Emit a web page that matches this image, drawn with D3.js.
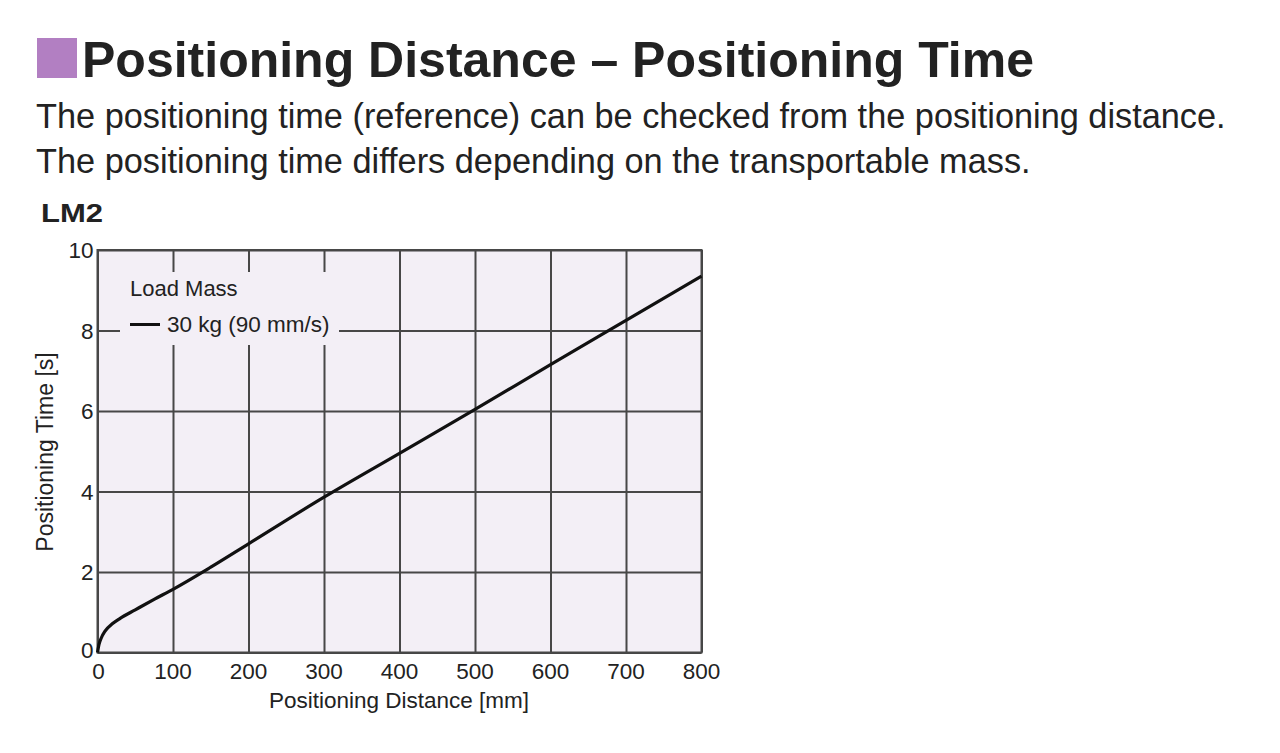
<!DOCTYPE html>
<html lang="en">
<head>
<meta charset="UTF-8">
<title>Positioning Distance - Positioning Time</title>
<script src="https://d3js.org/d3.v7.min.js"></script>
<style>
  body { margin: 0; background: #fff; }
  svg text { font-family: "Liberation Sans", Arial, Helvetica, sans-serif; fill: #222; }
</style>
</head>
<body>
<svg id="chart" width="1280" height="753"></svg>
<script>
// curve (distance in mm, time in s)
const distance = [0, 2, 5, 10, 20, 30, 50, 75, 100, 150, 200, 300, 400, 500, 600, 700, 800];
const time = [0, 0.2, 0.36, 0.53, 0.72, 0.85, 1.06, 1.32, 1.57, 2.12, 2.7, 3.86, 4.95, 6.04, 7.15, 8.25, 9.35];
const xTicks = [0, 100, 200, 300, 400, 500, 600, 700, 800];
const yTicks = [0, 2, 4, 6, 8, 10];
const legendTitle = "Load Mass";
const seriesName = "30 kg (90 mm/s)";

const svg = d3.select("#chart");

// header
svg.append("rect").attr("x", 37).attr("y", 38).attr("width", 40).attr("height", 40).attr("fill", "#b27fc2");
svg.append("text").attr("x", 82).attr("y", 77).style("font-size", "50px").style("font-weight", "bold")
    .text("Positioning Distance \u2013 Positioning Time");
svg.append("text").attr("x", 36).attr("y", 128).style("font-size", "34.3px")
    .text("The positioning time (reference) can be checked from the positioning distance.");
svg.append("text").attr("x", 36).attr("y", 173).style("font-size", "34.3px")
    .text("The positioning time differs depending on the transportable mass.");
svg.append("text").attr("x", 41).attr("y", 222).style("font-size", "26px").style("font-weight", "bold")
    .attr("textLength", 62).attr("lengthAdjust", "spacingAndGlyphs")
    .text("LM2");

// plot
const pLeft = 97.5, pRight = 701.5, pTop = 250, pBottom = 652.5;
const x = d3.scaleLinear().domain([0, 800]).range([pLeft, pRight]);
const y = d3.scaleLinear().domain([0, 10]).range([pBottom, pTop]);

const g = svg.append("g");
g.append("rect").attr("x", pLeft).attr("y", pTop).attr("width", pRight - pLeft).attr("height", pBottom - pTop)
    .attr("fill", "#f3eff6");

g.append("g").attr("transform", `translate(0,${pBottom})`)
    .call(d3.axisBottom(x).tickValues(xTicks).tickSize(-(pBottom - pTop)).tickFormat(""))
    .call(a => a.select(".domain").remove())
    .selectAll("line").attr("stroke", "#474747").attr("stroke-width", 2);

g.append("g").attr("transform", `translate(${pLeft},0)`)
    .call(d3.axisLeft(y).tickValues(yTicks).tickSize(-(pRight - pLeft)).tickFormat(""))
    .call(a => a.select(".domain").remove())
    .selectAll("line").attr("stroke", "#474747").attr("stroke-width", 2);

g.append("rect").attr("x", pLeft).attr("y", pTop).attr("width", pRight - pLeft).attr("height", pBottom - pTop)
    .attr("fill", "none").attr("stroke", "#474747").attr("stroke-width", 2);

// legend box covers the grid
g.append("rect").attr("x", 120).attr("y", 272).attr("width", 219).attr("height", 73).attr("fill", "#f3eff6");
g.append("text").attr("x", 130).attr("y", 296).style("font-size", "22px").text(legendTitle);
g.append("line").attr("x1", 130).attr("x2", 160).attr("y1", 324.5).attr("y2", 324.5)
    .attr("stroke", "#111").attr("stroke-width", 3);
g.append("text").attr("x", 167).attr("y", 332).style("font-size", "22.5px").text(seriesName);

// tick labels
g.selectAll(".xl").data(xTicks).enter().append("text")
    .attr("x", d => x(d) + (d === 0 ? 1 : 0)).attr("y", 679)
    .attr("text-anchor", "middle").style("font-size", "22.5px").text(d => d);
g.selectAll(".yl").data(yTicks).enter().append("text")
    .attr("x", pLeft - 4).attr("y", d => y(d) + 8 - (d === 0 ? 3 : 0) + (d === 10 ? 0 : 0))
    .attr("text-anchor", "end").style("font-size", "22.5px").text(d => d);

// axis titles
g.append("text").attr("x", 399).attr("y", 708).attr("text-anchor", "middle").style("font-size", "22.5px")
    .text("Positioning Distance [mm]");
g.append("text").attr("transform", "translate(53,452) rotate(-90)").attr("text-anchor", "middle")
    .style("font-size", "23px").text("Positioning Time [s]");

// curve
const pts = distance.map((d, i) => [d, time[i]]);
g.append("path").datum(pts)
    .attr("fill", "none").attr("stroke", "#111").attr("stroke-width", 3.2)
    .attr("d", d3.line().x(d => x(d[0])).y(d => y(d[1])).curve(d3.curveMonotoneX));
</script>
</body>
</html>
